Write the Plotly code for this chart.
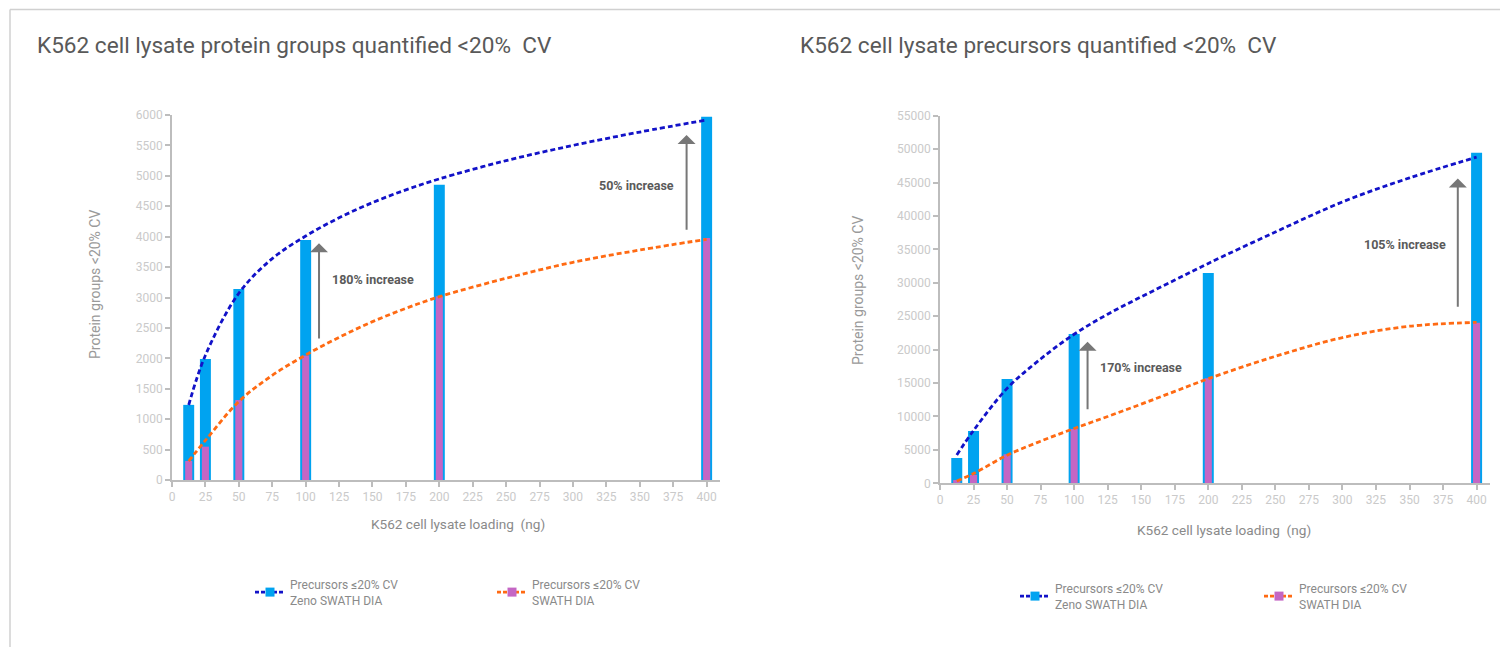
import plotly.graph_objects as go

# ---------------- data ----------------
loading = [12.5, 25, 50, 100, 200, 400]
pg_zeno = [1235, 1990, 3140, 3945, 4855, 5970]
pg_swath = [312, 548, 1315, 2045, 3020, 3980]
prec_zeno = [3790, 7830, 15600, 22340, 31460, 49460]
prec_swath = [500, 1250, 4340, 8130, 15700, 24030]

trend_x = [12.5, 25, 50, 75, 100, 125, 150, 175, 200, 250, 300, 350, 400]
pg_zeno_trend = [1233, 2050, 3070, 3640, 4010, 4310, 4560, 4770, 4950, 5250, 5500, 5720, 5918]
pg_swath_trend = [312, 650, 1290, 1720, 2055, 2345, 2603, 2822, 3013, 3316, 3579, 3781, 3957]
prec_zeno_trend = [4240, 7900, 14200, 18600, 22300, 25300, 27900, 30400, 32900, 37600, 42100, 45700, 48800]
prec_swath_trend = [350, 1450, 4200, 6300, 8200, 10000, 11850, 13750, 15650, 19000, 21800, 23500, 24080]

x_ticks = list(range(0, 401, 25))
pg_ticks = list(range(0, 6001, 500))
prec_ticks = list(range(0, 55001, 5000))

# arrows: (x, tail_y, head_y)
pg_arrows = [(110, 2300, 3890), (385, 4090, 5670)]
prec_arrows = [(110, 10860, 21180), (386, 26180, 45620)]
pg_labels = [("180% increase", 118, 3304, "left"), ("50% increase", 377, 4833, "right")]
prec_labels = [("170% increase", 118, 17290, "left"), ("105% increase", 379, 35800, "right")]

titles = ["K562 cell lysate protein groups quantified <20%  CV",
          "K562 cell lysate precursors quantified <20%  CV"]
y_title = "Protein groups <20% CV"
x_title = "K562 cell lysate loading  (ng)"
name_zeno = "Precursors ≤20% CV<br>Zeno SWATH DIA"
name_swath = "Precursors ≤20% CV<br>SWATH DIA"

# ---------------- style ----------------
W, H = 1508, 647
OFF = 8  # page body margin
BLUE_BAR = "#00A3F0"
MAG_BAR = "#C466C4"
BLUE_LINE = "#1212C8"
ORANGE = "#FF6A13"
FONT = "Roboto"

def px_x(p):
    return (p - OFF) / W

def px_y(p):
    return 1 - (p - OFF) / H

fig = go.Figure()

panels = [
    dict(xa="x", ya="y", zeno=pg_zeno, swath=pg_swath, zt=pg_zeno_trend, st=pg_swath_trend,
         legend="legend"),
    dict(xa="x2", ya="y2", zeno=prec_zeno, swath=prec_swath, zt=prec_zeno_trend, st=prec_swath_trend,
         legend="legend2"),
]

for p in panels:
    fig.add_trace(go.Bar(x=loading, y=p["zeno"], width=8.2, marker=dict(color=BLUE_BAR, line=dict(width=0)),
                         xaxis=p["xa"], yaxis=p["ya"], showlegend=False))
    fig.add_trace(go.Bar(x=loading, y=p["swath"], width=5.3, marker=dict(color=MAG_BAR, line=dict(width=0)),
                         xaxis=p["xa"], yaxis=p["ya"], showlegend=False))
    fig.add_trace(go.Scatter(x=trend_x, y=p["zt"], mode="lines",
                             line=dict(color=BLUE_LINE, width=2.8, dash="5px,3px", shape="spline"),
                             xaxis=p["xa"], yaxis=p["ya"], showlegend=False))
    fig.add_trace(go.Scatter(x=trend_x, y=p["st"], mode="lines",
                             line=dict(color=ORANGE, width=2.8, dash="5px,3px", shape="spline"),
                             xaxis=p["xa"], yaxis=p["ya"], showlegend=False))
    # legend entries
    fig.add_trace(go.Scatter(x=[None], y=[None], mode="lines+markers", name=name_zeno,
                             line=dict(color=BLUE_LINE, width=2.6, dash="4px,2px"),
                             marker=dict(symbol="square", size=9, color=BLUE_BAR),
                             xaxis=p["xa"], yaxis=p["ya"], legend=p["legend"]))
    fig.add_trace(go.Scatter(x=[None], y=[None], mode="lines+markers", name=name_swath,
                             line=dict(color=ORANGE, width=2.6, dash="4px,2px"),
                             marker=dict(symbol="square", size=9, color=MAG_BAR),
                             xaxis=p["xa"], yaxis=p["ya"], legend=p["legend"]))

axis_common = dict(
    showgrid=False, zeroline=False, showline=True, linecolor="#BDBDBD", linewidth=1.5,
    ticks="outside", ticklen=5, tickcolor="#BDBDBD", tickwidth=1.5, automargin=False,
    tickfont=dict(family=FONT, size=12, color="#CACACA"), tickformat="d",
)

fig.update_layout(
    width=W, height=H,
    margin=dict(l=0, r=0, t=0, b=0, pad=0, autoexpand=False),
    paper_bgcolor="white", plot_bgcolor="white",
    barmode="overlay",
    font=dict(family=FONT),
    xaxis=dict(domain=[px_x(172), px_x(720)], range=[0, 410], tickvals=x_ticks, anchor="y", **axis_common),
    yaxis=dict(domain=[px_y(480), px_y(115)], range=[0, 6000], tickvals=pg_ticks, anchor="x", **axis_common),
    xaxis2=dict(domain=[px_x(940), px_x(1490)], range=[0, 410], tickvals=x_ticks, anchor="y2", **axis_common),
    yaxis2=dict(domain=[px_y(483.3), px_y(115.7)], range=[0, 55000], tickvals=prec_ticks, anchor="x2", **axis_common),
    legend=dict(orientation="h", x=px_x(250), y=px_y(570), xanchor="left", yanchor="top",
                entrywidth=197, entrywidthmode="pixels", itemwidth=30,
                font=dict(family=FONT, size=12, color="#8A8A8A"), bgcolor="rgba(0,0,0,0)"),
    legend2=dict(orientation="h", x=px_x(1015), y=px_y(574), xanchor="left", yanchor="top",
                 entrywidth=199, entrywidthmode="pixels", itemwidth=30,
                 font=dict(family=FONT, size=12, color="#8A8A8A"), bgcolor="rgba(0,0,0,0)"),
    showlegend=True,
)

annotations = []
for (xa, ya, arrows, labels) in [("x", "y", pg_arrows, pg_labels), ("x2", "y2", prec_arrows, prec_labels)]:
    for (ax_, tail, head) in arrows:
        annotations.append(dict(x=ax_, y=head, ax=ax_, ay=tail, xref=xa, yref=ya, axref=xa, ayref=ya,
                                showarrow=True, arrowhead=1, arrowsize=1.5, arrowwidth=2,
                                arrowcolor="#777777", text=""))
    for (txt, lx, ly, anc) in labels:
        annotations.append(dict(x=lx, y=ly, xref=xa, yref=ya, text="<b>" + txt + "</b>", showarrow=False,
                                xanchor=anc, yanchor="middle",
                                font=dict(family=FONT, size=12.5, color="#5A5A5A")))

# titles
for (txt, xp) in [(titles[0], 35), (titles[1], 798)]:
    annotations.append(dict(x=px_x(xp), y=px_y(45), xref="paper", yref="paper", text=txt, showarrow=False,
                            xanchor="left", yanchor="middle",
                            font=dict(family=FONT, size=22.6, color="#595959")))
# axis titles
for (xp, yp) in [(95, 285), (858, 291)]:
    annotations.append(dict(x=px_x(xp), y=px_y(yp), xref="paper", yref="paper", text=y_title, showarrow=False,
                            textangle=-90, xanchor="center", yanchor="middle",
                            font=dict(family=FONT, size=14, color="#9A9A9A")))
for (xp, yp) in [(458, 524), (1224, 530)]:
    annotations.append(dict(x=px_x(xp), y=px_y(yp), xref="paper", yref="paper", text=x_title, showarrow=False,
                            xanchor="center", yanchor="middle",
                            font=dict(family=FONT, size=13.6, color="#8A8A8A")))
fig.update_layout(annotations=annotations)

# frame lines (top and left border)
fig.add_shape(type="line", xref="paper", yref="paper", x0=px_x(10), x1=1, y0=px_y(9.5), y1=px_y(9.5),
              line=dict(color="#D0D0D0", width=1.5))
fig.add_shape(type="line", xref="paper", yref="paper", x0=px_x(10), x1=px_x(10), y0=0, y1=px_y(9.5),
              line=dict(color="#D0D0D0", width=1.5))

fig.write_html("out.html")
